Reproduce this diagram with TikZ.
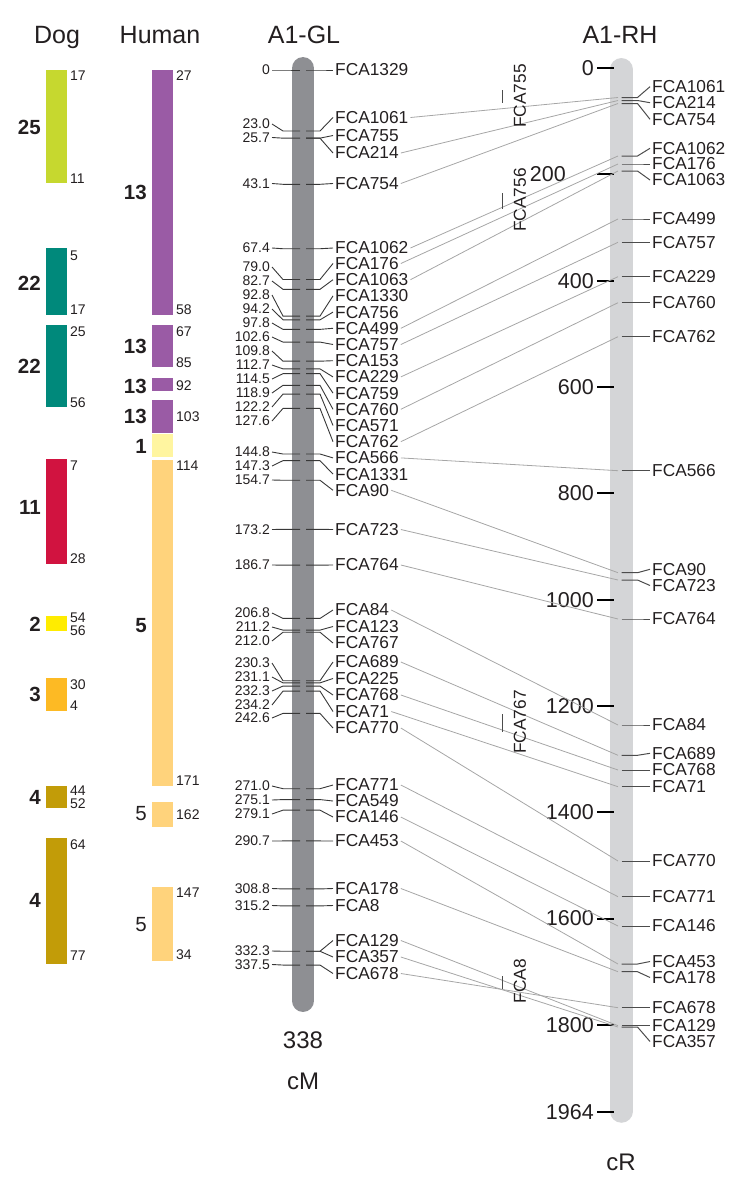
\documentclass[tikz,border=0pt]{standalone}
\usepackage{fontspec}
\setmainfont{Liberation Sans}
\definecolor{txt}{HTML}{231F20}
\definecolor{glgray}{HTML}{8E8F93}
\definecolor{rhgray}{HTML}{D4D5D7}
\definecolor{cLime}{HTML}{C6D82F}
\definecolor{cTeal}{HTML}{00897B}
\definecolor{cCrim}{HTML}{D11340}
\definecolor{cYel}{HTML}{FFEC00}
\definecolor{cAmb}{HTML}{FDBA24}
\definecolor{cGold}{HTML}{C29C08}
\definecolor{cPurp}{HTML}{9A5BA5}
\definecolor{cPale}{HTML}{FFF5A0}
\definecolor{cOra}{HTML}{FFD37C}
\begin{document}
\begin{tikzpicture}[x=1pt,y=-1pt,
  fca/.style={font=\fontsize{17.3}{17.3}\selectfont, inner sep=2pt, text=txt},
  val/.style={font=\fontsize{14}{14}\selectfont, inner sep=2pt, text=txt},
  small/.style={font=\fontsize{14}{14}\selectfont, inner sep=1.5pt, text=txt, anchor=west},
  big/.style={font=\fontsize{20.5}{20.5}\selectfont\bfseries, inner sep=1pt, text=txt, anchor=east},
  bigreg/.style={font=\fontsize{20.5}{20.5}\selectfont, inner sep=1pt, text=txt, anchor=east},
  title/.style={font=\fontsize{25}{25}\selectfont, inner sep=0pt, text=txt, anchor=base},
  scalelab/.style={font=\fontsize{21.5}{21.5}\selectfont, inner sep=1pt, text=txt, anchor=east},
  unitlab/.style={font=\fontsize{24}{24}\selectfont, inner sep=0pt, text=txt},
  gtick/.style={draw=black!78, line width=0.9pt},
  rtick/.style={draw=black!70, line width=1pt},
  link/.style={draw=black!35, line width=0.8pt},
  scaletick/.style={draw=black, line width=2pt},
]
\useasboundingbox (0,0) rectangle (750,1191);

% ---------- titles ----------
\node[title] (tDog) at (57,43) {Dog};
\node[title] (tHum) at (160,43) {Human};
\node[title] (tGL) at (304,43) {A1-GL};
\node[title] (tRH) at (620,43) {A1-RH};

% ---------- Dog blocks ----------
\fill[cLime] (45.7,70) rectangle (66.7,183.3);
\node[small] (d1a) at (68.5,76) {17};
\node[small] (d1b) at (68.5,179) {11};
\node[big] (d1) at (42,127.7) {25};

\fill[cTeal] (45.7,248.3) rectangle (66.7,315);
\node[small] (d2a) at (68.5,256) {5};
\node[small] (d2b) at (68.5,310) {17};
\node[big] (d2) at (42,283) {22};

\fill[cTeal] (45.7,325) rectangle (66.7,407.3);
\node[small] (d3a) at (68.5,331.7) {25};
\node[small] (d3b) at (68.5,402.7) {56};
\node[big] (d3) at (42,366.7) {22};

\fill[cCrim] (45.7,459) rectangle (66.7,564);
\node[small] (d4a) at (68.5,465.5) {7};
\node[small] (d4b) at (68.5,558.7) {28};
\node[big] (d4) at (42,507) {11};

\fill[cYel] (45.7,616.3) rectangle (66.7,630.6);
\node[small] (d5a) at (68.5,617.6) {54};
\node[small] (d5b) at (68.5,630.4) {56};
\node[big] (d5) at (42,624.5) {2};

\fill[cAmb] (45.7,678) rectangle (66.7,711);
\node[small] (d6a) at (68.5,685) {30};
\node[small] (d6b) at (68.5,705.6) {4};
\node[big] (d6) at (42,694) {3};

\fill[cGold] (45.7,786.4) rectangle (66.7,807.7);
\node[small] (d7a) at (68.5,791) {44};
\node[small] (d7b) at (68.5,803.4) {52};
\node[big] (d7) at (42,797.7) {4};

\fill[cGold] (45.7,838) rectangle (66.7,963.5);
\node[small] (d8a) at (68.5,844.3) {64};
\node[small] (d8b) at (68.5,955.3) {77};
\node[big] (d8) at (42,900) {4};

% ---------- Human blocks ----------
\fill[cPurp] (152.3,70) rectangle (173.3,315);
\node[small] (h1a) at (174.5,76) {27};
\node[small] (h1b) at (174.5,310) {58};
\node[big] (h1) at (148,192.7) {13};

\fill[cPurp] (152.3,325) rectangle (173.3,366.7);
\node[small] (h2a) at (174.5,331.7) {67};
\node[small] (h2b) at (174.5,362.7) {85};
\node[big] (h2) at (148,346.7) {13};

\fill[cPurp] (152.3,378.3) rectangle (173.3,390.7);
\node[small] (h3a) at (174.5,385.5) {92};
\node[big] (h3) at (148,386) {13};

\fill[cPurp] (152.3,400) rectangle (173.3,432.5);
\node[small] (h4a) at (174.5,416.7) {103};
\node[big] (h4) at (148,416.7) {13};

\fill[cPale] (152.3,434) rectangle (173.3,457.3);
\node[big] (h5) at (148,446) {1};

\fill[cOra] (152.3,459.8) rectangle (173.3,786.4);
\node[small] (h6a) at (174.5,466) {114};
\node[small] (h6b) at (174.5,781) {171};
\node[big] (h6) at (148,626) {5};

\fill[cOra] (152.3,802.4) rectangle (173.3,826.6);
\node[small] (h7a) at (174.5,814.8) {162};
\node[bigreg] (h7) at (148,814) {5};

\fill[cOra] (152.3,886.7) rectangle (173.3,961.4);
\node[small] (h8a) at (174.5,893) {147};
\node[small] (h8b) at (174.5,955) {34};
\node[bigreg] (h8) at (148,925) {5};

% ---------- chromosome bars ----------
\draw[glgray, line width=22.5pt, line cap=round] (303,68.3) -- (303,1000.7);
\draw[rhgray, line width=22.7pt, line cap=round] (621.3,69.4) -- (621.3,1111.4);

% ---------- A1-GL left values ----------
\foreach \v/\ly [count=\i] in {0/70, 23.0/124, 25.7/137.5, 43.1/183.5, 67.4/248,
  79.0/267, 82.7/281, 92.8/295, 94.2/309, 97.8/323, 102.6/337, 109.8/351, 112.7/365,
  114.5/379, 118.9/393, 122.2/407, 127.6/421, 144.8/452, 147.3/466, 154.7/480,
  173.2/529.5, 186.7/565, 206.8/613, 211.2/627, 212.0/641, 230.3/663, 231.1/677,
  232.3/691, 234.2/705, 242.6/718, 271.0/786, 275.1/800, 279.1/814, 290.7/841,
  308.8/888.5, 315.2/905.5, 332.3/951, 337.5/964.5}{
  \pgfmathsetmacro\t{70+2.652*\v}
  \node[val, anchor=east] (gv\i) at (272,\ly) {\v};
  \coordinate (gt\i) at (303,\t);
  \draw[gtick] (gv\i.east) -- ([xshift=-20pt]gt\i) -- ([xshift=-3pt]gt\i);
}

% ---------- A1-GL right marker names ----------
\foreach \nm/\ly/\v in {FCA1329/70/0, FCA1061/117.5/23.0, FCA755/135.5/25.7,
  FCA214/153/25.7, FCA754/183.5/43.1, FCA1062/248/67.4, FCA176/263.5/79.0,
  FCA1063/279.7/82.7, FCA1330/295.9/92.8, FCA756/312.1/94.2, FCA499/328.3/97.8,
  FCA757/344.5/102.6, FCA153/360.7/109.8, FCA229/376.9/112.7, FCA759/393.1/114.5,
  FCA760/409.3/118.9, FCA571/425.5/122.2, FCA762/441.7/127.6, FCA566/457.9/144.8,
  FCA1331/474.1/147.3, FCA90/490.3/154.7, FCA723/529.5/173.2, FCA764/565/186.7,
  FCA84/610/206.8, FCA123/626.5/211.2, FCA767/643/212.0, FCA689/662/230.3,
  FCA225/678.5/231.1, FCA768/695/232.3, FCA71/711.5/234.2, FCA770/728/242.6,
  FCA771/785/271.0, FCA549/801/275.1, FCA146/817/279.1, FCA453/841/290.7,
  FCA178/888.5/308.8, FCA8/905.5/315.2, FCA129/940.5/332.3, FCA357/957/332.3,
  FCA678/973.5/337.5}{
  \pgfmathsetmacro\t{70+2.652*\v}
  \node[fca, anchor=west] (g\nm) at (333,\ly) {\nm};
  \coordinate (gr\nm) at (303,\t);
  \draw[gtick] ([xshift=3pt]gr\nm) -- ([xshift=17pt]gr\nm) -- (g\nm.west);
}

% ---------- A1-RH scale ----------
\foreach \v in {0,400,600,800,1000,1200,1400,1600,1800,1964}{
  \pgfmathsetmacro\y{68+0.5316*\v}
  \coordinate (sc\v) at (597,\y);
  \draw[scaletick] (sc\v) -- ([xshift=17pt]sc\v);
  \node[scalelab] (sl\v) at ([xshift=-2pt]sc\v) {\v};
}
\coordinate (sc200) at (597,174.3);
\draw[scaletick] (sc200) -- ([xshift=17pt]sc200);
\node[scalelab] (sl200) at ([xshift=-30pt]sc200) {200};

% ---------- A1-RH markers ----------
\foreach \nm/\ty/\ly in {FCA1061/97.5/86.7, FCA214/100.5/102.7, FCA754/103.5/119.3,
  FCA1062/156/148.3, FCA176/164/164, FCA1063/171/180, FCA499/219/219,
  FCA757/242.3/242.3, FCA229/276.7/276.7, FCA760/302.7/302.7, FCA762/336.7/336.7,
  FCA566/470.7/470.7, FCA90/572.7/569.3, FCA723/580/585.5, FCA764/619/619,
  FCA84/725/725, FCA689/755.3/753.3, FCA768/770/770, FCA71/786.7/786.7,
  FCA770/861/861, FCA771/896.7/896.7, FCA146/926/926, FCA453/964/961.5,
  FCA178/971.7/977.5, FCA678/1007.7/1007.7, FCA129/1025.7/1025.7, FCA357/1027/1041.5}{
  \node[fca, anchor=west] (r\nm) at (650,\ly) {\nm};
  \coordinate (rt\nm) at (621.5,\ty);
  \coordinate (re\nm) at (618,\ty);
  \draw[link] (g\nm.east) -- (re\nm);
  \draw[rtick] (rt\nm) -- ([xshift=16pt]rt\nm) -- (r\nm.west);
}

% ---------- unplaced markers (vertical) ----------
\node[fca, rotate=90] (vFCA755) at (520,96) {FCA755};
\coordinate (m755a) at (502,90); \coordinate (m755b) at (502,103);
\draw[rtick] (m755a) -- (m755b);
\node[fca, rotate=90] (vFCA756) at (520,200) {FCA756};
\coordinate (m756a) at (502,193); \coordinate (m756b) at (502,209);
\draw[rtick] (m756a) -- (m756b);
\node[fca, rotate=90] (vFCA767) at (520,722) {FCA767};
\coordinate (m767a) at (502,714); \coordinate (m767b) at (502,732);
\draw[rtick] (m767a) -- (m767b);
\node[fca, rotate=90] (vFCA8) at (520,981) {FCA8};
\coordinate (m8a) at (502,976); \coordinate (m8b) at (502,989);
\draw[rtick] (m8a) -- (m8b);

% ---------- units ----------
\node[unitlab] (u338) at (303,1040) {338};
\node[unitlab, anchor=base] (ucM) at (303,1089) {cM};
\node[unitlab, anchor=base] (ucR) at (621,1170) {cR};
\end{tikzpicture}
\end{document}
